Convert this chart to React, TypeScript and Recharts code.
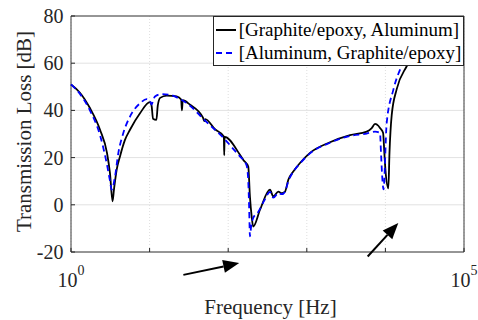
import {
  LineChart,
  Line,
  XAxis,
  YAxis,
  CartesianGrid,
  Legend,
  ReferenceArea,
  ReferenceLine,
  Label,
} from "recharts";

const FONT = '"Liberation Serif", "Times New Roman", Times, serif';
const INK = "#262626";

// frequency axis (log) and level axis
const xTicks = [1, 10, 100, 1000, 10000, 100000];
const xLabelled = [1, 100000];
const yTicks = [-20, 0, 20, 40, 60, 80];

// [Graphite/epoxy, Aluminum]
const blackFreq = [
  1, 1.3, 1.74, 2.34, 2.87, 3.13, 3.38, 3.52, 3.81, 4.2, 4.86, 5.63, 7.55, 10.1,
  10.6, 11.05, 12.2, 12.7, 13.6, 16.5, 22.1, 25.2, 25.8, 26.4, 32.7, 47.8, 49.5,
  51, 67.9, 88, 89, 90, 141, 155.6, 180, 189, 199, 208, 254, 340, 375, 434, 480,
  528, 582, 673, 819, 1099, 1974, 3549, 5786, 6698, 7380, 8128, 8540, 9340, 9700,
  10000, 10900, 11270, 12030, 13930, 18660, 27540, 49500,
];
const blackTL = [
  51, 47.5, 41, 31.8, 22, 13.5, 1.5, 6.4, 14.8, 20.5, 27.5, 31.8, 38.8, 43.5,
  42, 36.5, 36, 42, 45.3, 46.3, 45.9, 44.6, 40, 44.3, 42.4, 36.9, 35.5,
  36.3, 32, 29, 21, 28.8, 21.2, 19, 16.2, 3.5, -5, -9.2, -2.1, 6.4, 3.5, 5.6, 4.9,
  5.6, 10.6, 14.1, 17.7, 22, 26.5, 29.5, 31, 32.5, 34.3, 33.5, 32.5, 30.5, 22,
  15, 7, 22, 38, 49, 58.7, 68, 82,
];

// [Aluminum, Graphite/epoxy]
const blueFreq = [
  1, 1.3, 1.74, 2.34, 2.87, 3.1, 3.3, 3.63, 4.0, 4.63, 5.63, 7.55, 9.19, 10.1,
  10.6, 11.05, 11.7, 14.3, 18.2, 24.4, 32.7, 47.8, 86, 141, 160, 172, 180, 185,
  189, 196, 208, 241, 290, 340, 375, 434, 480, 528, 582, 673, 819, 1099, 1974,
  3549, 5786, 7380, 8540, 8790, 9190, 9460, 10380, 12610, 16110, 23800, 42800,
];
const blueTL = [
  51, 47, 40, 29.5, 17, 11, 6.4, 12, 21.9, 30.4, 37.4, 43, 44.8, 44,
  42.5, 44, 45.9, 46.9, 46.6, 44.8, 42, 36.5, 28.5, 20.5, 18.5, 16.5, 10, -2,
  -13.4, -9, -5.6, -3, 2, 5.5, 3, 5, 4.5, 5.5, 10, 14, 17.5, 21.8, 26.3,
  29.2, 30.2, 31, 30.5, 22, 10, 6.5, 34.6, 48.7, 58.9, 68, 82,
];

// annotation arrows: [freq, level] of tail and head
const arrowTails = [
  [26.9, -29.7],
  [5950, -21.9],
];
const arrowHeads = [
  [138, -24.7],
  [14590, -7.75],
];

const series = [
  {
    name: "[Graphite/epoxy, Aluminum]",
    color: "#000000",
    dash: undefined as string | undefined,
    data: blackFreq.map((f, i) => ({ f, tl: blackTL[i] })),
  },
  {
    name: "[Aluminum, Graphite/epoxy]",
    color: "#0000ff",
    dash: "6 4",
    data: blueFreq.map((f, i) => ({ f, tl: blueTL[i] })),
  },
];

const BottomTick = (props: any) => {
  const { x, y, payload } = props;
  const show = xLabelled.includes(payload.value);
  return (
    <g>
      <line x1={x} y1={y} x2={x} y2={y - 4} stroke={INK} />
      {show && (
        <text x={x} y={y + 35} textAnchor="middle" fontFamily={FONT} fontSize={20} fill={INK}>
          <tspan>10</tspan>
          <tspan dy={-12} fontSize={14}>
            {Math.round(Math.log10(payload.value))}
          </tspan>
        </text>
      )}
    </g>
  );
};

const TopTick = (props: any) => (
  <line x1={props.x} y1={props.y} x2={props.x} y2={props.y + 4} stroke={INK} />
);

const LeftTick = (props: any) => {
  const { x, y, payload } = props;
  return (
    <g>
      <line x1={x} y1={y} x2={x + 4} y2={y} stroke={INK} />
      <text x={x - 7.5} y={y + 7} textAnchor="end" fontFamily={FONT} fontSize={20} fill={INK}>
        {payload.value}
      </text>
    </g>
  );
};

const RightTick = (props: any) => (
  <line x1={props.x} y1={props.y} x2={props.x - 4} y2={props.y} stroke={INK} />
);

const Arrow = (props: any) => {
  const { x1, y1, x2, y2 } = props;
  const a = Math.atan2(y2 - y1, x2 - x1);
  const len = 16;
  const half = 6.5;
  const bx = x2 - len * Math.cos(a);
  const by = y2 - len * Math.sin(a);
  const px = -Math.sin(a) * half;
  const py = Math.cos(a) * half;
  return (
    <g>
      <line x1={x1} y1={y1} x2={bx} y2={by} stroke="#000" strokeWidth={2} />
      <polygon
        points={`${x2},${y2} ${bx + px},${by + py} ${bx - px},${by - py}`}
        fill="#000"
      />
    </g>
  );
};

// legend follows the series order (recharts sorts its payload by name)
const LegendBox = () => (
  <div
    style={{
      width: 251.3,
      height: 50,
      boxSizing: "border-box",
      border: `1px solid ${INK}`,
      background: "#fff",
      paddingTop: 2,
      fontFamily: FONT,
      fontSize: 19,
      color: "#000",
    }}
  >
    {series.map((s) => (
      <div
        key={s.name}
        style={{
          display: "flex",
          alignItems: "center",
          height: 22.5,
          lineHeight: "22.5px",
          whiteSpace: "nowrap",
        }}
      >
        <svg width={20} height={6} style={{ marginLeft: 2, marginRight: 3 }}>
          <line
            x1={0}
            y1={3}
            x2={20}
            y2={3}
            stroke={s.color}
            strokeWidth={2}
            strokeDasharray={s.dash}
          />
        </svg>
        <span>{s.name}</span>
      </div>
    ))}
  </div>
);

export default function App() {
  return (
    <div style={{ position: "fixed", left: 0, top: 0, width: 478, height: 320, overflow: "hidden", background: "#fff" }}>
      <LineChart width={478} height={320} margin={{ top: 8, right: 0, bottom: 0, left: 8 }}>
        <CartesianGrid vertical={false} stroke="#e2e2e2" />
        <CartesianGrid horizontal={false} stroke="#dedede" strokeDasharray="1 2" />
        <XAxis
          dataKey="f"
          type="number"
          scale="log"
          domain={[1, 100000]}
          ticks={xTicks}
          interval={0}
          height={68}
          axisLine={false}
          tickLine={false}
          tickSize={0}
          tickMargin={0}
          tick={<BottomTick />}
        >
          <Label
            content={(p: any) => (
              <text
                x={p.viewBox.x + p.viewBox.width / 2 + 3}
                y={p.viewBox.y + 62}
                textAnchor="middle"
                fontFamily={FONT}
                fontSize={21}
                fill={INK}
              >
                Frequency [Hz]
              </text>
            )}
          />
        </XAxis>
        <XAxis
          xAxisId="top"
          orientation="top"
          type="number"
          scale="log"
          domain={[1, 100000]}
          ticks={xTicks}
          interval={0}
          height={8}
          axisLine={false}
          tickLine={false}
          tickSize={0}
          tickMargin={0}
          tick={<TopTick />}
        />
        <YAxis
          type="number"
          domain={[-20, 80]}
          ticks={yTicks}
          interval={0}
          width={63}
          allowDataOverflow
          axisLine={false}
          tickLine={false}
          tickSize={0}
          tickMargin={0}
          tick={<LeftTick />}
        >
          <Label
            content={(p: any) => {
              const cx = p.viewBox.x + 16;
              const cy = p.viewBox.y + p.viewBox.height / 2 - 2.5;
              return (
                <text
                  x={cx}
                  y={cy}
                  transform={`rotate(-90, ${cx}, ${cy})`}
                  textAnchor="middle"
                  dominantBaseline="central"
                  fontFamily={FONT}
                  fontSize={21}
                  fill={INK}
                >
                  Transmission Loss [dB]
                </text>
              );
            }}
          />
        </YAxis>
        <YAxis
          yAxisId="right"
          orientation="right"
          type="number"
          domain={[-20, 80]}
          ticks={yTicks}
          interval={0}
          width={14}
          axisLine={false}
          tickLine={false}
          tickSize={0}
          tickMargin={0}
          tick={<RightTick />}
        />
        <ReferenceArea
          x1={1}
          x2={100000}
          y1={-20}
          y2={80}
          fill="none"
          stroke="#3a3a3a"
          strokeWidth={1}
          ifOverflow="visible"
        />
        {series.map((s) => (
          <Line
            key={s.name}
            data={s.data}
            dataKey="tl"
            name={s.name}
            type="monotoneX"
            stroke={s.color}
            strokeWidth={1.8}
            strokeDasharray={s.dash}
            dot={false}
            activeDot={false}
            isAnimationActive={false}
          />
        ))}
        {arrowTails.map((t, i) => (
          <ReferenceLine
            key={i}
            segment={[
              { x: t[0], y: t[1] },
              { x: arrowHeads[i][0], y: arrowHeads[i][1] },
            ]}
            ifOverflow="visible"
            shape={<Arrow />}
          />
        ))}
        <Legend
          layout="horizontal"
          verticalAlign="middle"
          align="center"
          content={<LegendBox />}
          wrapperStyle={{ left: 212.7, top: 16, width: 251.3, height: 50 }}
        />
      </LineChart>
    </div>
  );
}
